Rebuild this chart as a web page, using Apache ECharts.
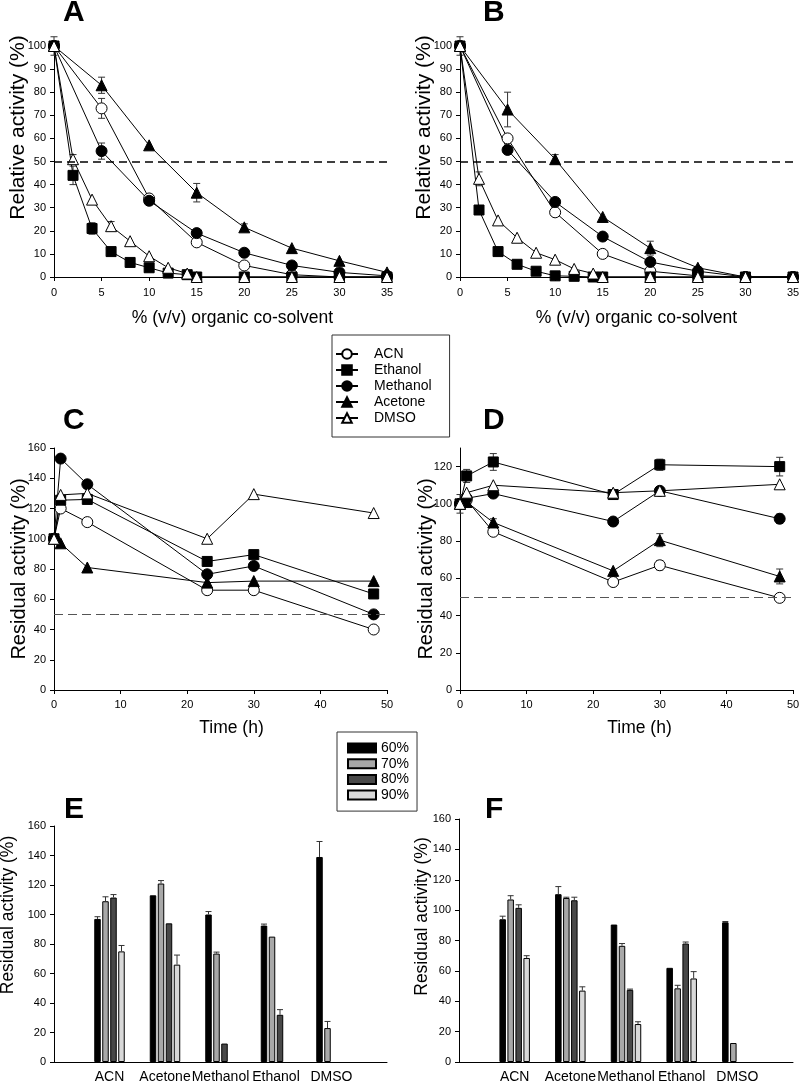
<!DOCTYPE html>
<html>
<head>
<meta charset="utf-8">
<script src="https://cdn.jsdelivr.net/npm/echarts@6.0.0/dist/echarts.min.js"></script>
<style>
html,body{margin:0;padding:0;background:#fff;}
#chart{width:800px;height:1084px;}
</style>
</head>
<body>
<div id="chart"></div>
<script>
// ---------------- DATA ----------------
const solvents = ['ACN', 'Ethanol', 'Methanol', 'Acetone', 'DMSO'];
const xCoarse = [0, 5, 10, 15, 20, 25, 30, 35];
const xFine = [0, 2, 4, 6, 8, 10, 12, 14, 15, 20, 25, 30, 35];
const hours = [0, 1, 5, 23, 30, 48];

// Panel A (relative activity vs % co-solvent)
const A_ACN = [100, 73, 34, 15, 5, 1, 0, 0];              // xCoarse
const A_Ethanol = [100, 44, 21, 11, 6.3, 4, 1.7, 1, 0, 0, 0, 0, 0]; // xFine
const A_Methanol = [100, 54.5, 33, 19, 10.5, 5, 2, 0.5];  // xCoarse
const A_Acetone = [100, 83, 57, 36.5, 21.5, 12.5, 7, 2];  // xCoarse
const A_DMSO = [100, 51, 33.5, 22, 15.5, 9, 4, 1.5, 0, 0, 0, 0, 0]; // xFine
const A_errors = [[0, 100, 4], [5, 73, 4.3], [5, 83, 3.5], [5, 54.5, 3.5], [15, 36.5, 4],
  [2, 44, 4], [2, 51, 2], [4, 21, 2.5], [6, 22, 2], [20, 21.5, 1.5], [10, 33, 1.5]];

// Panel B
const B_ACN = [100, 60, 28, 10, 2.5, 0.5, 0, 0];
const B_Ethanol = [100, 29, 11, 5.5, 2.5, 0.5, 0.3, 0, 0, 0, 0, 0, 0];
const B_Methanol = [100, 55, 32.5, 17.5, 6.5, 2.5, 0, 0];
const B_Acetone = [100, 72.5, 51, 26, 12.5, 4, 0, 0];
const B_DMSO = [100, 42.5, 24.5, 17, 10.5, 7.5, 3.5, 1.5, 0, 0, 0, 0, 0];
const B_errors = [[0, 100, 4], [5, 72.5, 7.5], [10, 51, 2], [20, 12.5, 3], [2, 42.5, 3]];

// Panel C (residual activity vs time)
const C_ACN = [100, 120, 111, 66, 66, 40];
const C_Ethanol = [100, 125.5, 126, 85, 89.5, 63.5];
const C_Methanol = [100, 153, 136, 76.5, 82, 50];
const C_Acetone = [100, 97, 81, 71, 72, 72];
const C_DMSO = [100, 129, 130, 100, 129.5, 117];

// Panel D
const D_ACN = [100, 102, 85, 58, 67, 49.5];
const D_Ethanol = [100, 115, 122.5, 105, 121, 120];
const D_Methanol = [100, 103, 105.5, 90.5, 107, 92];
const D_Acetone = [100, 101, 90, 64, 80.5, 61];
const D_DMSO = [100, 106, 110, 106, 107, 110.5];
const D_errors = [[0, 100, 5], [1, 115, 3.5], [5, 122.5, 4.5], [30, 121, 3], [48, 120, 5],
  [48, 92, 2.5], [30, 80.5, 3.5], [48, 61, 4], [30, 67, 2.5], [30, 107, 2], [5, 90, 2]];
const D_yTicks = [0, 20, 40, 60, 80, 100, 120];

// Panels E and F (bars)
const barCats = ['ACN', 'Acetone', 'Methanol', 'Ethanol', 'DMSO'];
const pctNames = ['60%', '70%', '80%', '90%'];
const E_60 = [97, 113, 100, 92.5, 139];
const E_70 = [109, 121, 73.5, 85, 23];
const E_80 = [111.5, 94, 12.5, 32, null];
const E_90 = [75, 66, null, null, null];
const E_60err = [1.5, 0, 2, 1, 10.5];
const E_70err = [3, 2, 1, 0, 4.5];
const E_80err = [2, 0, 0, 3.5, 0];
const E_90err = [4, 6.5, 0, 0, 0];
const F_60 = [94, 110.5, 90.5, 62, 92];
const F_70 = [107, 108, 76.5, 48.5, 12.5];
const F_80 = [101.5, 106.5, 47.5, 78, null];
const F_90 = [68.5, 47, 25, 55, null];
const F_60err = [2, 5, 0, 0, 0.5];
const F_70err = [2.5, 0.5, 1.5, 2, 0];
const F_80err = [2, 2, 0.5, 1, 0];
const F_90err = [1.5, 2.5, 1.5, 4.5, 0];

// ---------------- STYLES ----------------
const FONT = 'Arial, "Liberation Sans", Helvetica, sans-serif';
const markers = {
  ACN: { symbol: 'circle', size: 11, fill: '#fff' },
  Ethanol: { symbol: 'rect', size: 10, fill: '#000' },
  Methanol: { symbol: 'circle', size: 11, fill: '#000' },
  Acetone: { symbol: 'triangle', size: 11, fill: '#000' },
  DMSO: { symbol: 'triangle', size: 11, fill: '#fff' }
};
const barColors = { '60%': '#000000', '70%': '#a8a8a8', '80%': '#484848', '90%': '#d8d8d8' };

function pairs(xs, ys) { return xs.map((x, i) => [x, ys[i]]); }

function lineSeries(name, gi, data, markLine) {
  const m = markers[name];
  const s = {
    type: 'line', name: name, xAxisIndex: gi, yAxisIndex: gi, data: data,
    symbol: m.symbol, symbolSize: m.size, showAllSymbol: true,
    lineStyle: { color: '#000', width: 1 },
    itemStyle: { color: m.fill, borderColor: '#000', borderWidth: 1, opacity: 1 },
    emphasis: { disabled: true }, z: 3
  };
  if (markLine) s.markLine = markLine;
  return s;
}

function errSeries(gi, data) {
  return {
    type: 'custom', xAxisIndex: gi, yAxisIndex: gi, data: data, z: 2, silent: true,
    encode: { x: 0, y: 1 },
    renderItem: function (params, api) {
      const x = api.value(0), y = api.value(1), e = api.value(2);
      const t = api.coord([x, y + e]), b = api.coord([x, y - e]);
      const hw = 3.5, st = { stroke: '#333', lineWidth: 1 };
      return { type: 'group', children: [
        { type: 'line', shape: { x1: t[0], y1: t[1], x2: b[0], y2: b[1] }, style: st },
        { type: 'line', shape: { x1: t[0] - hw, y1: t[1], x2: t[0] + hw, y2: t[1] }, style: st },
        { type: 'line', shape: { x1: b[0] - hw, y1: b[1], x2: b[0] + hw, y2: b[1] }, style: st }
      ] };
    }
  };
}

function barSeries(name, gi, vals) {
  return {
    type: 'bar', name: name, xAxisIndex: gi, yAxisIndex: gi,
    data: [null].concat(vals, [null]),
    barWidth: 6.5, barGap: '23%',
    itemStyle: { color: barColors[name], borderColor: '#000', borderWidth: 1 },
    emphasis: { disabled: true }, z: 2
  };
}

function barErrSeries(gi, valsList, errsList) {
  const data = [];
  valsList.forEach((vals, si) => {
    vals.forEach((v, ci) => {
      if (v != null && errsList[si][ci] > 0) data.push([ci + 1, v, errsList[si][ci], si]);
    });
  });
  return {
    type: 'custom', xAxisIndex: gi, yAxisIndex: gi, data: data, z: 3, silent: true,
    encode: { x: 0, y: 1 },
    renderItem: function (params, api) {
      const ci = api.value(0), v = api.value(1), e = api.value(2), si = api.value(3);
      const off = (si - 1.5) * 8;
      const b = api.coord([ci, v]), t = api.coord([ci, v + e]);
      const x = b[0] + off, hw = 3, st = { stroke: '#333', lineWidth: 1 };
      return { type: 'group', children: [
        { type: 'line', shape: { x1: x, y1: b[1], x2: x, y2: t[1] }, style: st },
        { type: 'line', shape: { x1: x - hw, y1: t[1], x2: x + hw, y2: t[1] }, style: st }
      ] };
    }
  };
}

const mlBlack = { silent: true, symbol: ['none', 'none'], label: { show: false },
  lineStyle: { type: [8, 5], color: '#000', width: 1.5 }, data: [{ yAxis: 50 }], emphasis: { disabled: true } };
const mlGray = { silent: true, symbol: ['none', 'none'], label: { show: false },
  lineStyle: { type: [9, 5], color: '#555', width: 1 }, data: [{ yAxis: 50 }], emphasis: { disabled: true } };

function baseAxis(gi) {
  return {
    gridIndex: gi,
    axisLine: { show: true, onZero: false, lineStyle: { color: '#000', width: 1 } },
    axisTick: { show: true, inside: false, length: 4, lineStyle: { color: '#000', width: 1 } },
    axisLabel: { fontSize: 11, color: '#000', fontFamily: FONT, margin: 8 },
    splitLine: { show: false },
    nameLocation: 'middle',
    nameMoveOverlap: false
  };
}
function xVal(gi, max, interval, name, gap, padL, margin) {
  const a = baseAxis(gi);
  Object.assign(a, { type: 'value', min: 0, max: max, interval: interval, name: name, nameGap: gap,
    nameTextStyle: { fontSize: 17.5, color: '#000', fontFamily: FONT, padding: [0, 0, 0, padL] } });
  a.axisLabel.margin = margin;
  return a;
}
function yVal(gi, max, interval, name, gap, fs, padL) {
  const a = baseAxis(gi);
  Object.assign(a, { type: 'value', min: 0, max: max, interval: interval, name: name, nameGap: gap,
    nameTextStyle: { fontSize: fs, color: '#000', fontFamily: FONT, padding: [0, 0, 0, padL] } });
  return a;
}
function xCat(gi) {
  const a = baseAxis(gi);
  Object.assign(a, { type: 'category', data: [''].concat(barCats, ['']), boundaryGap: false });
  a.axisTick.show = false;
  a.axisLabel.fontSize = 14;
  a.axisLabel.margin = 8;
  a.axisLabel.interval = 0;
  return a;
}

const yD = yVal(3, 130, 20, 'Residual activity (%)', 24, 20, 0);
yD.axisLabel.customValues = D_yTicks;
yD.axisTick.customValues = D_yTicks;

const grids = [
  { left: 54, top: 46, width: 333, height: 231 },
  { left: 460, top: 46, width: 333, height: 231 },
  { left: 54, top: 448, width: 333, height: 242 },
  { left: 460, top: 448, width: 333, height: 242 },
  { left: 54, top: 826, width: 333, height: 236 },
  { left: 459, top: 819, width: 334, height: 243 }
].map(g => Object.assign(g, { containLabel: false, outerBoundsMode: 'none' }));

const series = [
  errSeries(0, A_errors),
  lineSeries('ACN', 0, pairs(xCoarse, A_ACN), mlBlack),
  lineSeries('Ethanol', 0, pairs(xFine, A_Ethanol)),
  lineSeries('Methanol', 0, pairs(xCoarse, A_Methanol)),
  lineSeries('Acetone', 0, pairs(xCoarse, A_Acetone)),
  lineSeries('DMSO', 0, pairs(xFine, A_DMSO)),

  errSeries(1, B_errors),
  lineSeries('ACN', 1, pairs(xCoarse, B_ACN), mlBlack),
  lineSeries('Ethanol', 1, pairs(xFine, B_Ethanol)),
  lineSeries('Methanol', 1, pairs(xCoarse, B_Methanol)),
  lineSeries('Acetone', 1, pairs(xCoarse, B_Acetone)),
  lineSeries('DMSO', 1, pairs(xFine, B_DMSO)),

  lineSeries('ACN', 2, pairs(hours, C_ACN), mlGray),
  lineSeries('Ethanol', 2, pairs(hours, C_Ethanol)),
  lineSeries('Methanol', 2, pairs(hours, C_Methanol)),
  lineSeries('Acetone', 2, pairs(hours, C_Acetone)),
  lineSeries('DMSO', 2, pairs(hours, C_DMSO)),

  errSeries(3, D_errors),
  lineSeries('ACN', 3, pairs(hours, D_ACN), mlGray),
  lineSeries('Ethanol', 3, pairs(hours, D_Ethanol)),
  lineSeries('Methanol', 3, pairs(hours, D_Methanol)),
  lineSeries('Acetone', 3, pairs(hours, D_Acetone)),
  lineSeries('DMSO', 3, pairs(hours, D_DMSO)),

  barSeries('60%', 4, E_60), barSeries('70%', 4, E_70), barSeries('80%', 4, E_80), barSeries('90%', 4, E_90),
  barErrSeries(4, [E_60, E_70, E_80, E_90], [E_60err, E_70err, E_80err, E_90err]),
  barSeries('60%', 5, F_60), barSeries('70%', 5, F_70), barSeries('80%', 5, F_80), barSeries('90%', 5, F_90),
  barErrSeries(5, [F_60, F_70, F_80, F_90], [F_60err, F_70err, F_80err, F_90err])
];

function letter(t, x, y) {
  return { type: 'text', left: x, top: y, silent: true,
    style: { text: t, font: 'bold 30px ' + FONT, fill: '#000' } };
}

const option = {
  animation: false,
  backgroundColor: '#fff',
  textStyle: { fontFamily: FONT },
  grid: grids,
  xAxis: [
    xVal(0, 35, 5, '% (v/v) organic co-solvent', 32, 24, 10),
    xVal(1, 35, 5, '% (v/v) organic co-solvent', 32, 20, 10),
    xVal(2, 50, 10, 'Time (h)', 29, 22, 9),
    xVal(3, 50, 10, 'Time (h)', 29, 26, 9),
    xCat(4),
    xCat(5)
  ],
  yAxis: [
    yVal(0, 100, 10, 'Relative activity (%)', 25, 21, 68),
    yVal(1, 100, 10, 'Relative activity (%)', 25, 21, 68),
    yVal(2, 160, 20, 'Residual activity (%)', 25, 20, 0),
    yD,
    yVal(4, 160, 20, 'Residual activity (%)', 37, 17.5, 58),
    yVal(5, 160, 20, 'Residual activity (%)', 28, 17.5, 48)
  ],
  legend: [
    {
      data: solvents, orient: 'vertical', left: 332, top: 335,
      padding: [12, 18, 12, 3], itemWidth: 22, itemHeight: 12, itemGap: 2,
      borderColor: '#333', borderWidth: 1, backgroundColor: '#fff',
      textStyle: { fontSize: 14, color: '#000', fontFamily: FONT, padding: [0, 0, 0, 11] },
      selectedMode: false
    },
    {
      data: pctNames, orient: 'vertical', left: 337, top: 732,
      padding: [9, 8, 9, 10], itemWidth: 28, itemHeight: 9, itemGap: 1.7,
      icon: 'rect', borderColor: '#333', borderWidth: 1, backgroundColor: '#fff',
      textStyle: { fontSize: 14, color: '#000', fontFamily: FONT },
      selectedMode: false
    }
  ],
  graphic: [
    letter('A', 63, -2), letter('B', 483, -2),
    letter('C', 63, 406), letter('D', 483, 406),
    letter('E', 64, 795), letter('F', 485, 795)
  ],
  series: series
};

const chart = echarts.init(document.getElementById('chart'), null, { renderer: 'canvas' });
chart.setOption(option);
</script>
</body>
</html>
